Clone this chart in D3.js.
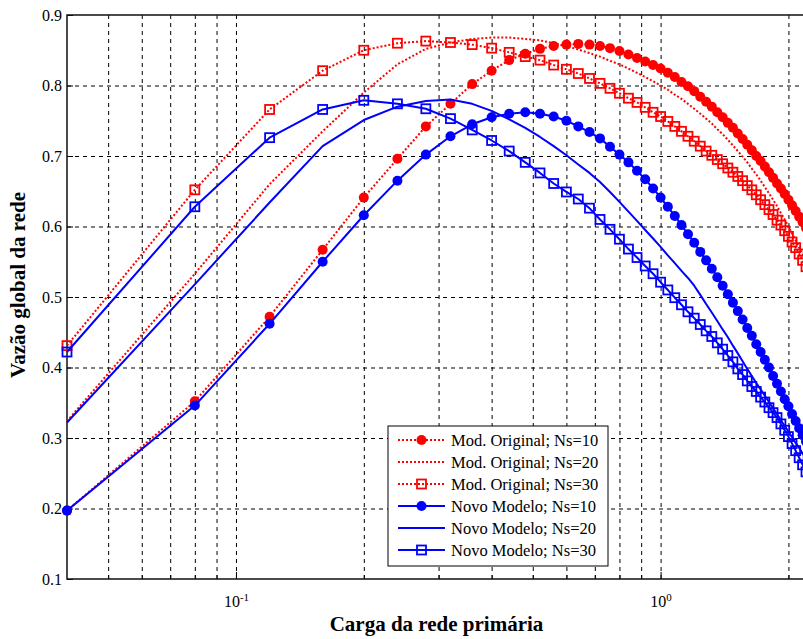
<!DOCTYPE html>
<html>
<head>
<meta charset="utf-8">
<script src="https://cdn.jsdelivr.net/npm/d3@7"></script>
<style>
body { margin: 0; background: #fff; }
text { font-family: "Liberation Serif", "Times New Roman", serif; fill: #000; }
</style>
</head>
<body>
<svg width="803" height="639"></svg>
<script>
// carga da rede primária (eixo x)
const carga = [0.04, 0.08, 0.12, 0.16, 0.20, 0.24, 0.28, 0.32, 0.36, 0.40,
    0.44, 0.48, 0.52, 0.56, 0.60, 0.64, 0.68, 0.72, 0.76, 0.80,
    0.84, 0.88, 0.92, 0.96, 1.00, 1.04, 1.08, 1.12, 1.16, 1.20,
    1.24, 1.28, 1.32, 1.36, 1.40, 1.44, 1.48, 1.52, 1.56, 1.60,
    1.64, 1.68, 1.72, 1.76, 1.80, 1.84, 1.88, 1.92, 1.96, 2.00,
    2.04, 2.08, 2.12, 2.16, 2.20];

const origNs10 = [0.197, 0.352, 0.472, 0.567, 0.641, 0.696, 0.742, 0.774, 0.802, 0.821,
    0.836, 0.845, 0.852, 0.856, 0.858, 0.859, 0.858, 0.856, 0.853, 0.849,
    0.844, 0.839, 0.834, 0.829, 0.824, 0.818, 0.812, 0.805, 0.799, 0.792,
    0.784, 0.777, 0.770, 0.762, 0.755, 0.747, 0.740, 0.732, 0.724, 0.716,
    0.708, 0.700, 0.693, 0.685, 0.677, 0.669, 0.661, 0.654, 0.646, 0.638,
    0.630, 0.622, 0.614, 0.606, 0.598];

const origNs20 = [0.324, 0.533, 0.660, 0.735, 0.790, 0.830, 0.852, 0.861, 0.866, 0.868,
    0.868, 0.866, 0.864, 0.860, 0.856, 0.851, 0.846, 0.841, 0.835, 0.830,
    0.824, 0.818, 0.812, 0.806, 0.800, 0.794, 0.787, 0.781, 0.774, 0.767,
    0.760, 0.753, 0.746, 0.738, 0.731, 0.723, 0.715, 0.707, 0.699, 0.691,
    0.682, 0.674, 0.665, 0.656, 0.647, 0.638, 0.629, 0.619, 0.610, 0.600,
    0.590, 0.580, 0.570, 0.560, 0.550];

const origNs30 = [0.431, 0.652, 0.766, 0.821, 0.850, 0.860, 0.863, 0.861, 0.858, 0.853,
    0.847, 0.841, 0.836, 0.829, 0.823, 0.817, 0.810, 0.803, 0.796, 0.789,
    0.782, 0.776, 0.769, 0.762, 0.756, 0.749, 0.742, 0.735, 0.728, 0.721,
    0.714, 0.707, 0.701, 0.695, 0.689, 0.683, 0.677, 0.671, 0.665, 0.658,
    0.652, 0.645, 0.638, 0.631, 0.624, 0.617, 0.609, 0.602, 0.594, 0.586,
    0.578, 0.570, 0.561, 0.552, 0.543];

const novoNs10 = [0.197, 0.346, 0.462, 0.550, 0.616, 0.665, 0.702, 0.728, 0.745, 0.755,
    0.760, 0.762, 0.760, 0.756, 0.750, 0.742, 0.734, 0.725, 0.713, 0.702,
    0.691, 0.679, 0.667, 0.654, 0.641, 0.628, 0.615, 0.602, 0.589, 0.577,
    0.564, 0.552, 0.540, 0.528, 0.516, 0.504, 0.492, 0.480, 0.468, 0.456,
    0.445, 0.433, 0.422, 0.411, 0.400, 0.388, 0.377, 0.366, 0.355, 0.345,
    0.334, 0.324, 0.314, 0.304, 0.295];

const novoNs20 = [0.322, 0.518, 0.634, 0.714, 0.751, 0.770, 0.778, 0.780, 0.774, 0.764,
    0.752, 0.740, 0.727, 0.714, 0.701, 0.688, 0.676, 0.663, 0.649, 0.635,
    0.621, 0.608, 0.595, 0.583, 0.571, 0.559, 0.548, 0.537, 0.527, 0.516,
    0.503, 0.490, 0.478, 0.466, 0.454, 0.443, 0.431, 0.420, 0.409, 0.398,
    0.388, 0.378, 0.369, 0.360, 0.351, 0.342, 0.334, 0.325, 0.317, 0.309,
    0.301, 0.293, 0.286, 0.278, 0.271];

const novoNs30 = [0.422, 0.628, 0.726, 0.766, 0.779, 0.774, 0.767, 0.753, 0.737, 0.722,
    0.707, 0.691, 0.676, 0.661, 0.649, 0.639, 0.626, 0.610, 0.596, 0.582,
    0.568, 0.556, 0.544, 0.533, 0.521, 0.510, 0.499, 0.489, 0.479, 0.470,
    0.461, 0.452, 0.444, 0.435, 0.426, 0.417, 0.408, 0.398, 0.390, 0.381,
    0.373, 0.366, 0.358, 0.351, 0.343, 0.336, 0.329, 0.320, 0.311, 0.302,
    0.292, 0.282, 0.272, 0.262, 0.252];

const yTicks = [0.1, 0.2, 0.3, 0.4, 0.5, 0.6, 0.7, 0.8, 0.9];
const xMajor = [0.1, 1];
const xMinor = [0.05, 0.06, 0.07, 0.08, 0.09, 0.2, 0.3, 0.4, 0.5, 0.6, 0.7, 0.8, 0.9, 2];

const series = [
    { name: "Mod. Original; Ns=10", values: origNs10, color: "#ff0000", dash: "2,2", marker: "circle" },
    { name: "Mod. Original; Ns=20", values: origNs20, color: "#ff0000", dash: "2,2", marker: null },
    { name: "Mod. Original; Ns=30", values: origNs30, color: "#ff0000", dash: "2,2", marker: "square" },
    { name: "Novo Modelo; Ns=10", values: novoNs10, color: "#0000ff", dash: null, marker: "circle" },
    { name: "Novo Modelo; Ns=20", values: novoNs20, color: "#0000ff", dash: null, marker: null },
    { name: "Novo Modelo; Ns=30", values: novoNs30, color: "#0000ff", dash: null, marker: "square" }
];

const plotLeft = 67, plotRight = 806, plotTop = 15, plotBottom = 579;
const plotHeight = plotBottom - plotTop;

const svg = d3.select("svg");

const x = d3.scaleLog().domain([0.04, 2.2]).range([plotLeft, plotRight]);
const y = d3.scaleLinear().domain([0.1, 0.9]).range([plotBottom, plotTop]);

// grade
svg.append("g")
    .attr("transform", "translate(0," + plotBottom + ")")
    .call(d3.axisBottom(x).tickValues(xMinor.concat(xMajor)).tickSize(-plotHeight).tickFormat(""))
    .call(g => g.select(".domain").remove())
    .selectAll("line")
    .attr("stroke", "#000")
    .attr("stroke-dasharray", "4,4");

svg.append("g")
    .attr("transform", "translate(" + plotLeft + ",0)")
    .call(d3.axisLeft(y).tickValues(yTicks.slice(1, -1)).tickSize(-(plotRight - plotLeft)).tickFormat(""))
    .call(g => g.select(".domain").remove())
    .selectAll("line")
    .attr("stroke", "#000")
    .attr("stroke-dasharray", "4,4");

// eixos
svg.append("g")
    .attr("transform", "translate(0," + plotBottom + ")")
    .call(d3.axisBottom(x).tickValues(xMinor).tickSize(-4).tickFormat(""))
    .call(g => g.select(".domain").remove());

const xAxis = svg.append("g")
    .attr("transform", "translate(0," + plotBottom + ")")
    .call(d3.axisBottom(x).tickValues(xMajor).tickSize(-7).tickPadding(17).tickFormat(d => d))
    .call(g => g.select(".domain").remove());

xAxis.selectAll(".tick text")
    .style("font-family", "'Liberation Serif', serif")
    .attr("font-size", 16)
    .each(function(d) {
        const t = d3.select(this).text("");
        t.append("tspan").text("10");
        t.append("tspan").attr("dy", "-0.6em").attr("font-size", 11).text(Math.round(Math.log10(d)));
    });

svg.append("g")
    .attr("transform", "translate(" + plotLeft + ",0)")
    .call(d3.axisLeft(y).tickValues(yTicks).tickSize(-6).tickPadding(5).tickFormat(d3.format(".1f")))
    .call(g => g.select(".domain").remove())
    .selectAll("text")
    .style("font-family", "'Liberation Serif', serif")
    .attr("font-size", 16);

svg.append("rect")
    .attr("x", plotLeft).attr("y", plotTop)
    .attr("width", plotRight - plotLeft).attr("height", plotHeight)
    .attr("fill", "none")
    .attr("stroke", "#111")
    .attr("stroke-width", 1.5);

// curvas
const line = d3.line()
    .x(d => x(d[0]))
    .y(d => y(d[1]));

function drawMarkers(g, s, pts) {
    if (s.marker === "circle") {
        g.selectAll("circle").data(pts).join("circle")
            .attr("cx", d => x(d[0]))
            .attr("cy", d => y(d[1]))
            .attr("r", 5)
            .attr("fill", s.color);
    } else if (s.marker === "square") {
        g.selectAll("rect").data(pts).join("rect")
            .attr("x", d => x(d[0]) - 4.5)
            .attr("y", d => y(d[1]) - 4.5)
            .attr("width", 9).attr("height", 9)
            .attr("fill", "none")
            .attr("stroke", s.color)
            .attr("stroke-width", 1.8);
    }
}

series.forEach(s => {
    const pts = d3.zip(carga, s.values);
    const g = svg.append("g");
    g.append("path")
        .datum(pts)
        .attr("fill", "none")
        .attr("stroke", s.color)
        .attr("stroke-width", 2)
        .attr("stroke-dasharray", s.dash)
        .attr("stroke-linejoin", "round")
        .attr("d", line);
    drawMarkers(g, s, pts);
});

// rótulos
svg.append("text")
    .attr("x", (plotLeft + plotRight) / 2)
    .attr("y", 631)
    .attr("text-anchor", "middle")
    .attr("font-size", 21)
    .attr("font-weight", "bold")
    .text("Carga da rede primária");

svg.append("text")
    .attr("transform", "translate(25,285) rotate(-90)")
    .attr("text-anchor", "middle")
    .attr("font-size", 21)
    .attr("font-weight", "bold")
    .text("Vazão global da rede");

// legenda
const legend = svg.append("g").attr("transform", "translate(388,426)");
legend.append("rect")
    .attr("width", 220).attr("height", 140)
    .attr("fill", "#fff")
    .attr("stroke", "#000")
    .attr("stroke-width", 1);

series.forEach((s, i) => {
    const row = legend.append("g").attr("transform", "translate(0," + (14 + i * 22) + ")");
    row.append("line")
        .attr("x1", 10).attr("x2", 57)
        .attr("stroke", s.color)
        .attr("stroke-width", 2)
        .attr("stroke-dasharray", s.dash);
    if (s.marker === "circle") {
        row.append("circle").attr("cx", 33.5).attr("r", 5).attr("fill", s.color);
    } else if (s.marker === "square") {
        row.append("rect").attr("x", 29).attr("y", -4.5).attr("width", 9).attr("height", 9)
            .attr("fill", "none").attr("stroke", s.color).attr("stroke-width", 1.8);
    }
    row.append("text")
        .attr("x", 63)
        .attr("dy", "0.35em")
        .attr("font-size", 16.5)
        .text(s.name);
});
</script>
</body>
</html>
